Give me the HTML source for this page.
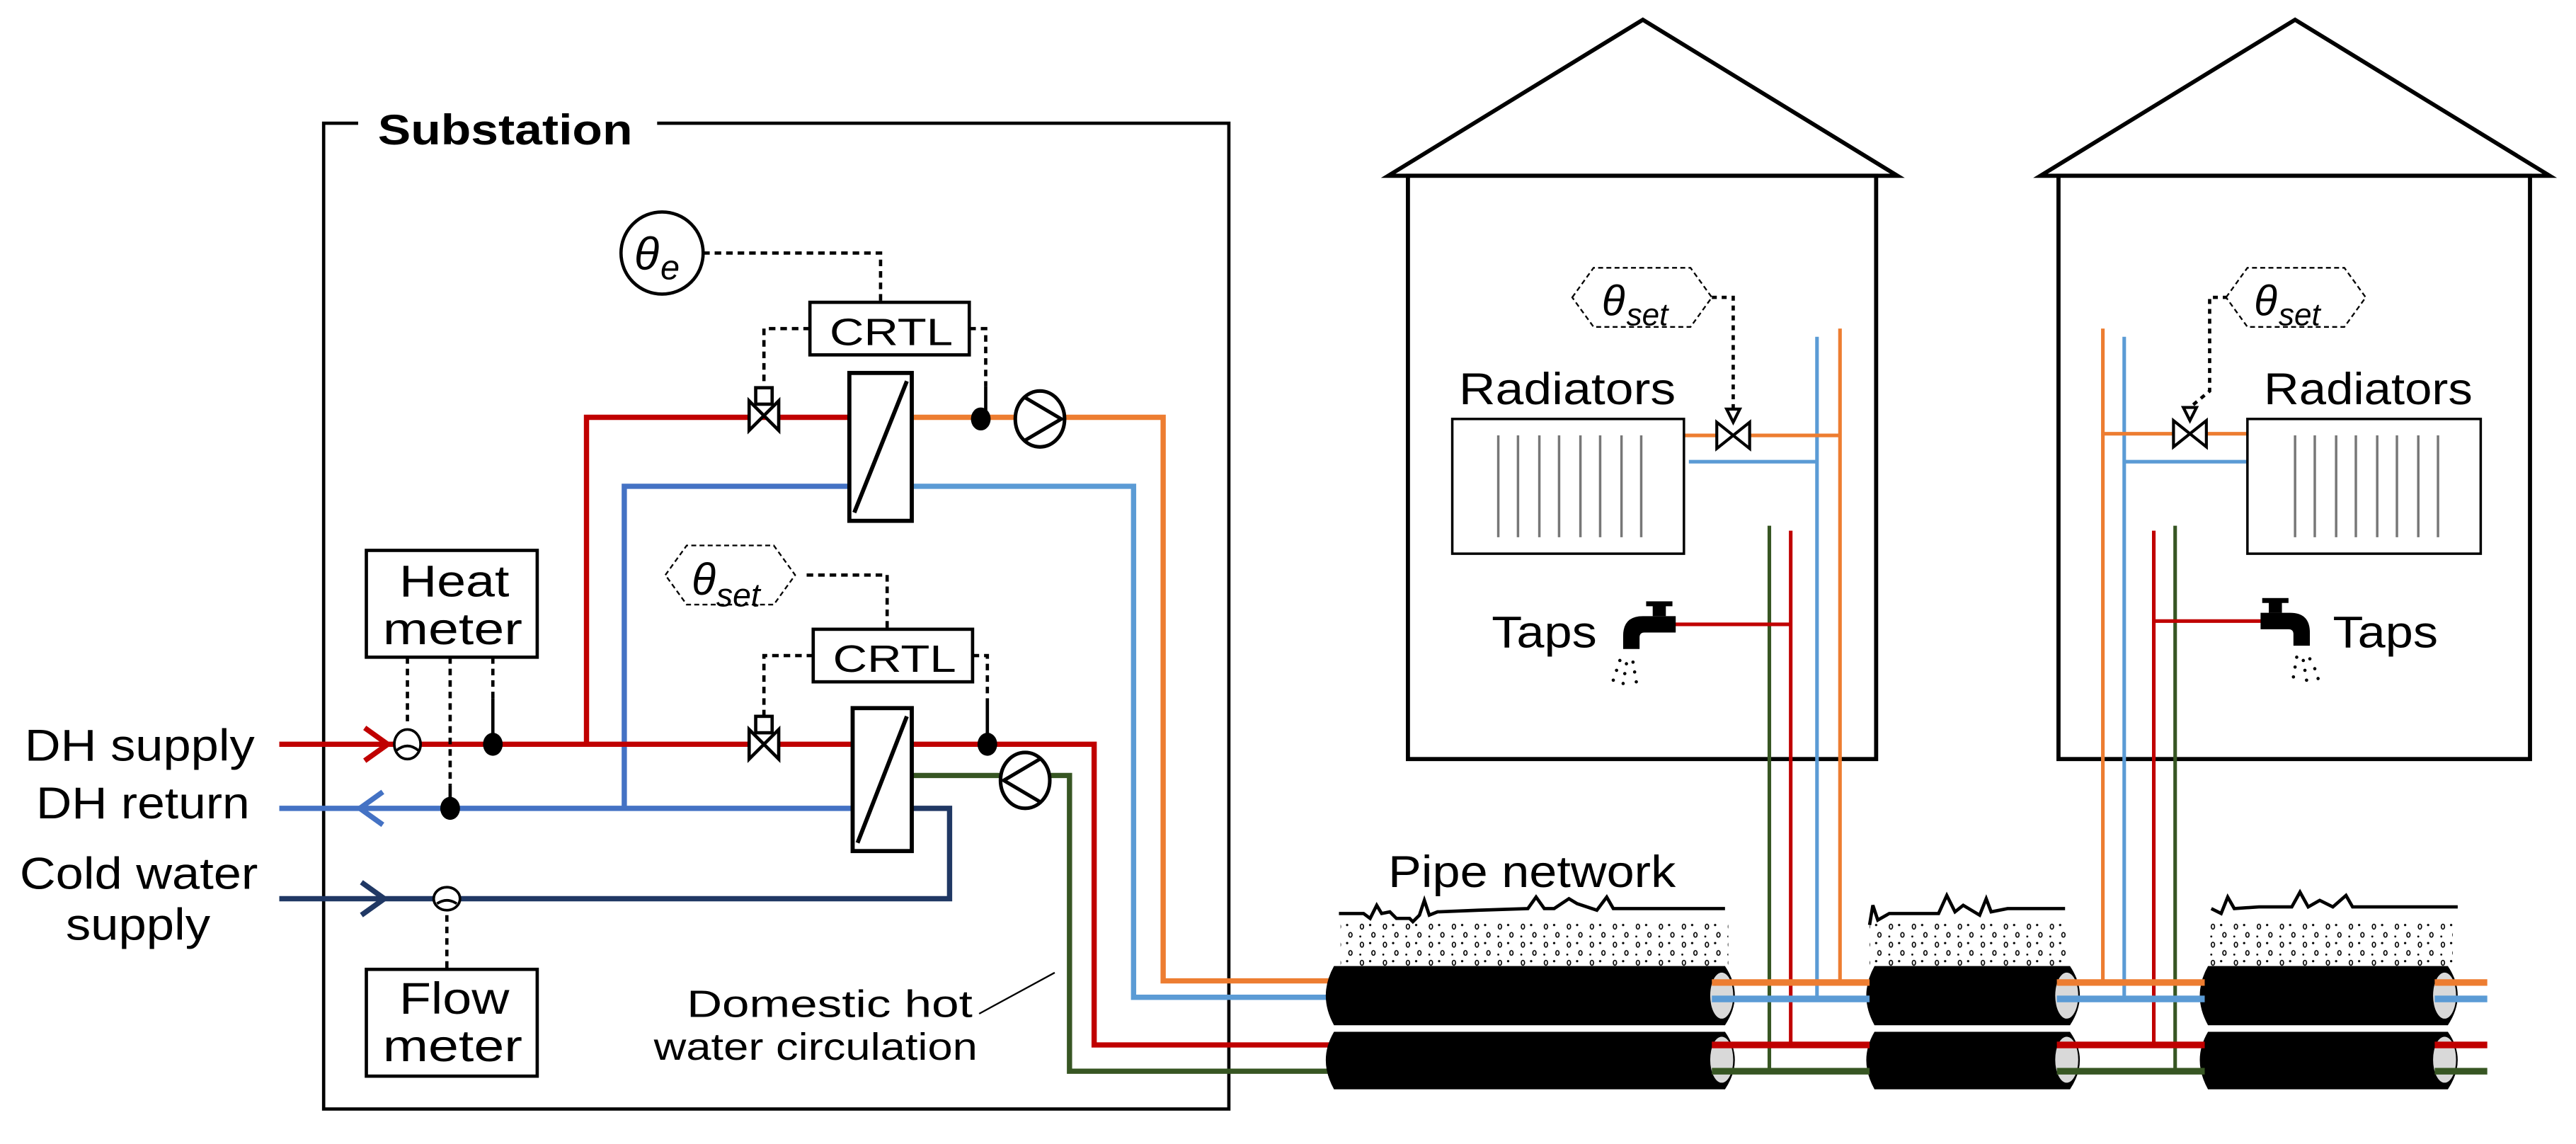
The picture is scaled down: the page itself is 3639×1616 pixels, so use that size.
<!DOCTYPE html>
<html><head><meta charset="utf-8"><style>html,body{margin:0;padding:0;background:#fff}svg{display:block}</style></head>
<body>
<svg width="3639" height="1616" viewBox="0 0 1568 696.3" preserveAspectRatio="none" xmlns="http://www.w3.org/2000/svg" font-family="Liberation Sans, Arial, sans-serif">
<defs>
<pattern id="grav" width="14" height="11" patternUnits="userSpaceOnUse">
<ellipse cx="3" cy="3" rx="1" ry="1.5" fill="none" stroke="#000" stroke-width="0.7"/>
<ellipse cx="10" cy="8" rx="1" ry="1.4" fill="none" stroke="#000" stroke-width="0.7"/>
<circle cx="8" cy="2" r="0.7" fill="#000"/>
<circle cx="2" cy="9" r="0.6" fill="#000"/>
</pattern>
</defs>
<rect width="1568" height="697" fill="#fff"/>

<!-- Substation box -->
<path d="M218 75 H197 V675 H748 V75 H400" fill="none" stroke="#000" stroke-width="2"/>
<text x="230" y="88" font-size="26" font-weight="bold" textLength="155" lengthAdjust="spacingAndGlyphs">Substation</text>

<g fill="none" stroke-width="3.2">
<path d="M357 453 V254 H517" stroke="#C00000"/>
<path d="M555 254 H708 V597 H812" stroke="#ED7D31"/>
<path d="M380 492 V296 H517" stroke="#4472C4"/>
<path d="M555 296 H690 V607 H812" stroke="#5B9BD5"/>
<path d="M170 453 H519" stroke="#C00000"/>
<path d="M555 453 H666 V636 H812" stroke="#C00000"/>
<path d="M555 472 H651 V652 H812" stroke="#375623"/>
<path d="M170 492 H519" stroke="#4472C4"/>
<path d="M555 492 H578 V547 H170" stroke="#203864"/>
</g>
<g fill="none" stroke-width="3.2">
<path d="M222 443 L236 453 L222 463" stroke="#C00000"/>
<path d="M233 482 L219 492 L233 502" stroke="#4472C4"/>
<path d="M220 537 L234 547 L220 557" stroke="#203864"/>
</g>

<circle cx="403" cy="154" r="25" fill="#fff" stroke="#000" stroke-width="2"/>
<text x="386" y="164" font-size="28" font-style="italic">θ</text><text x="402" y="170" font-size="21" font-style="italic">e</text>

<g fill="none" stroke="#000" stroke-width="2" stroke-dasharray="4 3">
<path d="M428 154 H536 V184"/>
<path d="M493 200 H465 V235"/>
<path d="M590 200 H600 V235"/>
<path d="M491 350 H540 V383"/>
<path d="M495 399 H465 V436"/>
<path d="M592 399 H601 V425"/>
<path d="M248 400 V440 M274 400 V478 M300 400 V425"/>
<path d="M272 557 V590"/>
</g>
<g stroke="#000" stroke-width="2">
<line x1="600" y1="235" x2="600" y2="254"/><line x1="601" y1="425" x2="601" y2="453"/>
<line x1="300" y1="425" x2="300" y2="453"/><line x1="274" y1="478" x2="274" y2="492"/>
</g>
<g fill="#000"><ellipse cx="597" cy="255" rx="6" ry="7"/><ellipse cx="601" cy="453" rx="6" ry="7"/><ellipse cx="300" cy="453" rx="6" ry="7"/><ellipse cx="274" cy="492" rx="6" ry="7"/></g>

<rect x="493" y="184" width="97" height="32" fill="#fff" stroke="#000" stroke-width="2"/>
<text x="505" y="210" font-size="23" textLength="75" lengthAdjust="spacingAndGlyphs">CRTL</text>
<rect x="495" y="383" width="97" height="32" fill="#fff" stroke="#000" stroke-width="2"/>
<text x="507" y="409" font-size="23" textLength="75" lengthAdjust="spacingAndGlyphs">CRTL</text>

<polygon points="405,350 418,332 471,332 484,350 471,368 418,368" fill="#fff" stroke="#000" stroke-width="1" stroke-dasharray="3 2"/>
<text x="421" y="362" font-size="27" font-style="italic">θ</text><text x="436" y="369" font-size="20" font-style="italic">set</text>

<g fill="#fff" stroke="#000" stroke-width="2">
<path d="M456 244 L474 262 L474 244 L456 262 Z"/><rect x="460" y="236" width="10" height="10"/>
<path d="M456 444 L474 462 L474 444 L456 462 Z"/><rect x="460" y="436" width="10" height="10"/>
</g>
<g fill="#fff" stroke="#000" stroke-width="2.5">
<rect x="517" y="227" width="38" height="90"/><line x1="520" y1="312" x2="552" y2="232"/>
<rect x="519" y="431" width="36" height="87"/><line x1="522" y1="513" x2="552" y2="436"/>
</g>
<g fill="#fff" stroke="#000" stroke-width="2.2">
<ellipse cx="633" cy="255" rx="15" ry="17"/><path d="M624 242 L646 255 L624 268" fill="none"/>
<ellipse cx="624" cy="475" rx="15" ry="17"/><path d="M633 462 L611 475 L633 488" fill="none"/>
</g>
<g fill="#fff" stroke="#000" stroke-width="1.6">
<ellipse cx="248" cy="453" rx="8" ry="9"/><path d="M241 457 Q248 451 255 457"/>
<ellipse cx="272" cy="547" rx="8" ry="7"/><path d="M266 550 Q272 546 278 550"/>
</g>

<rect x="223" y="335" width="104" height="65" fill="#fff" stroke="#000" stroke-width="2"/>
<text x="243" y="363" font-size="27" textLength="67" lengthAdjust="spacingAndGlyphs">Heat</text>
<text x="233" y="392" font-size="27" textLength="85" lengthAdjust="spacingAndGlyphs">meter</text>
<rect x="223" y="590" width="104" height="65" fill="#fff" stroke="#000" stroke-width="2"/>
<text x="243" y="617" font-size="27" textLength="67" lengthAdjust="spacingAndGlyphs">Flow</text>
<text x="233" y="646" font-size="27" textLength="85" lengthAdjust="spacingAndGlyphs">meter</text>

<g font-size="27" lengthAdjust="spacingAndGlyphs">
<text x="15" y="463" textLength="140" lengthAdjust="spacingAndGlyphs">DH supply</text>
<text x="22" y="498" textLength="130" lengthAdjust="spacingAndGlyphs">DH return</text>
<text x="12" y="541" textLength="145" lengthAdjust="spacingAndGlyphs">Cold water</text>
<text x="40" y="572" textLength="88" lengthAdjust="spacingAndGlyphs">supply</text>
</g>

<text x="418" y="619" font-size="23" textLength="174" lengthAdjust="spacingAndGlyphs">Domestic hot</text>
<text x="398" y="645" font-size="23" textLength="197" lengthAdjust="spacingAndGlyphs">water circulation</text>
<line x1="596" y1="617" x2="642" y2="592" stroke="#000" stroke-width="1"/>

<text x="845" y="540" font-size="27" textLength="175" lengthAdjust="spacingAndGlyphs">Pipe network</text>

<g fill="#fff" stroke="#000" stroke-width="2.5">
<path d="M845 107 L1000 12 L1155 107 Z"/><rect x="857" y="107" width="285" height="355"/>
<path d="M1242 107 L1397 12 L1552 107 Z"/><rect x="1253" y="107" width="287" height="355"/>
</g>

<g fill="none" stroke-width="2.2">
<path d="M1120 200 V598" stroke="#ED7D31"/><path d="M1106 205 V608" stroke="#5B9BD5"/>
<path d="M1090 323 V636" stroke="#C00000"/><path d="M1077 320 V652" stroke="#375623"/>
<path d="M1280 200 V598" stroke="#ED7D31"/><path d="M1293 205 V608" stroke="#5B9BD5"/>
<path d="M1311 323 V636" stroke="#C00000"/><path d="M1324 320 V652" stroke="#375623"/>
<path d="M1025 265 H1120" stroke="#ED7D31"/><path d="M1028 281 H1106" stroke="#5B9BD5"/>
<path d="M1018 380 H1090" stroke="#C00000"/>
<path d="M1280 264 H1368" stroke="#ED7D31"/><path d="M1293 281 H1368" stroke="#5B9BD5"/>
<path d="M1311 378 H1378" stroke="#C00000"/>
</g>

<g fill="#fff" stroke="#000" stroke-width="1.5">
<rect x="884" y="255" width="141" height="82"/><rect x="1368" y="255" width="142" height="82"/>
</g>
<g stroke="#777" stroke-width="1.5">
<path d="M912 265 V327 M924 265 V327 M937 265 V327 M949 265 V327 M962 265 V327 M974 265 V327 M987 265 V327 M999 265 V327"/>
<path d="M1397 265 V327 M1409 265 V327 M1422 265 V327 M1434 265 V327 M1447 265 V327 M1459 265 V327 M1472 265 V327 M1484 265 V327"/>
</g>
<text x="888" y="246" font-size="27" textLength="132" lengthAdjust="spacingAndGlyphs">Radiators</text>
<text x="1378" y="246" font-size="27" textLength="127" lengthAdjust="spacingAndGlyphs">Radiators</text>

<g fill="#fff" stroke="#000" stroke-width="1.8">
<path d="M1045 257 L1065 273 L1065 257 L1045 273 Z"/>
<path d="M1323 256 L1343 272 L1343 256 L1323 272 Z"/>
<path d="M1051 249 L1059 249 L1055 257 Z"/><path d="M1329 248 L1337 248 L1333 256 Z"/>
</g>
<g fill="none" stroke="#000" stroke-width="2" stroke-dasharray="3 3">
<path d="M1042 181 H1055 V249"/><path d="M1356 181 H1345 V238 L1333 248"/>
</g>
<g fill="#fff" stroke="#000" stroke-width="1" stroke-dasharray="3 2">
<polygon points="957,181 970,163 1029,163 1042,181 1029,199 970,199"/>
<polygon points="1355,181 1368,163 1427,163 1440,181 1427,199 1368,199"/>
</g>
<text x="975" y="192" font-size="26" font-style="italic">θ</text><text x="990" y="198" font-size="19" font-style="italic">set</text>
<text x="1372" y="192" font-size="26" font-style="italic">θ</text><text x="1387" y="198" font-size="19" font-style="italic">set</text>

<text x="908" y="394" font-size="27" textLength="64" lengthAdjust="spacingAndGlyphs">Taps</text>
<text x="1420" y="394" font-size="27" textLength="64" lengthAdjust="spacingAndGlyphs">Taps</text>
<g fill="#000">
<path d="M1020 375 H1000 Q988 375 988 387 V395 H998 V388 Q998 385 1001 385 H1020 Z"/>
<rect x="1006" y="368" width="8" height="7"/><rect x="1002" y="366" width="16" height="3"/>
<path d="M1376 373 H1394 Q1406 373 1406 385 V393 H1396 V386 Q1396 383 1393 383 H1376 Z"/>
<rect x="1381" y="366" width="8" height="7"/><rect x="1377" y="364" width="16" height="3"/>
</g>
<g fill="#000"><circle cx="986" cy="402" r="1"/><circle cx="990" cy="404" r="1"/><circle cx="994" cy="403" r="1"/><circle cx="984" cy="408" r="1"/><circle cx="989" cy="410" r="1"/><circle cx="995" cy="409" r="1"/><circle cx="982" cy="414" r="1"/><circle cx="988" cy="416" r="1"/><circle cx="996" cy="415" r="1"/>
<circle cx="1398" cy="400" r="1"/><circle cx="1402" cy="402" r="1"/><circle cx="1406" cy="401" r="1"/><circle cx="1397" cy="406" r="1"/><circle cx="1403" cy="408" r="1"/><circle cx="1409" cy="407" r="1"/><circle cx="1396" cy="412" r="1"/><circle cx="1404" cy="414" r="1"/><circle cx="1411" cy="413" r="1"/></g>

<rect x="816" y="560" width="236" height="28" fill="url(#grav)"/>
<rect x="1138" y="560" width="120" height="28" fill="url(#grav)"/>
<rect x="1343" y="560" width="150" height="28" fill="url(#grav)"/>
<g fill="none" stroke="#000" stroke-width="2">
<path d="M815 556 H830 L834 559 L838 551 L841 556 L846 555 L850 559 L858 559 L860 561 L864 557 L867 548 L870 557 L875 555 L900 554 L930 553 L935 546 L940 553 L946 553 L955 547 L960 550 L972 554 L978 546 L982 553 L990 553 H1050"/>
<path d="M1138 563 L1140 551 L1143 560 L1150 556 H1180 L1185 545 L1190 555 L1195 551 L1205 557 L1209 547 L1212 555 L1222 553 H1257"/>
<path d="M1346 553 L1352 556 L1356 546 L1360 553 L1375 552 H1395 L1400 543 L1405 552 L1412 548 L1420 552 L1428 545 L1432 552 L1440 552 H1496"/>
</g>

<g fill="#000">
<path d="M812 588 H1050 Q1062 606 1050 624 H812 Q802 606 812 588 Z"/>
<path d="M812 628 H1050 Q1062 645 1050 663 H812 Q802 645 812 628 Z"/>
<path d="M1141 588 H1260 Q1272 606 1260 624 H1141 Q1131 606 1141 588 Z"/>
<path d="M1141 628 H1260 Q1272 645 1260 663 H1141 Q1131 645 1141 628 Z"/>
<path d="M1344 588 H1490 Q1502 606 1490 624 H1344 Q1334 606 1344 588 Z"/>
<path d="M1344 628 H1490 Q1502 645 1490 663 H1344 Q1334 645 1344 628 Z"/>
</g>
<g fill="#D9D9D9">
<ellipse cx="1048" cy="606" rx="7" ry="14"/><ellipse cx="1048" cy="645" rx="7" ry="14"/>
<ellipse cx="1258" cy="606" rx="7" ry="14"/><ellipse cx="1258" cy="645" rx="7" ry="14"/>
<ellipse cx="1488" cy="606" rx="7" ry="14"/><ellipse cx="1488" cy="645" rx="7" ry="14"/>
</g>
<g fill="none" stroke-width="4">
<path d="M1042 598 H1138 M1252 598 H1342 M1482 598 H1514" stroke="#ED7D31"/>
<path d="M1042 608 H1138 M1252 608 H1342 M1482 608 H1514" stroke="#5B9BD5"/>
<path d="M1042 636 H1138 M1252 636 H1342 M1482 636 H1514" stroke="#C00000"/>
<path d="M1042 652 H1138 M1252 652 H1342 M1482 652 H1514" stroke="#375623"/>
</g>
</svg>
</body></html>
